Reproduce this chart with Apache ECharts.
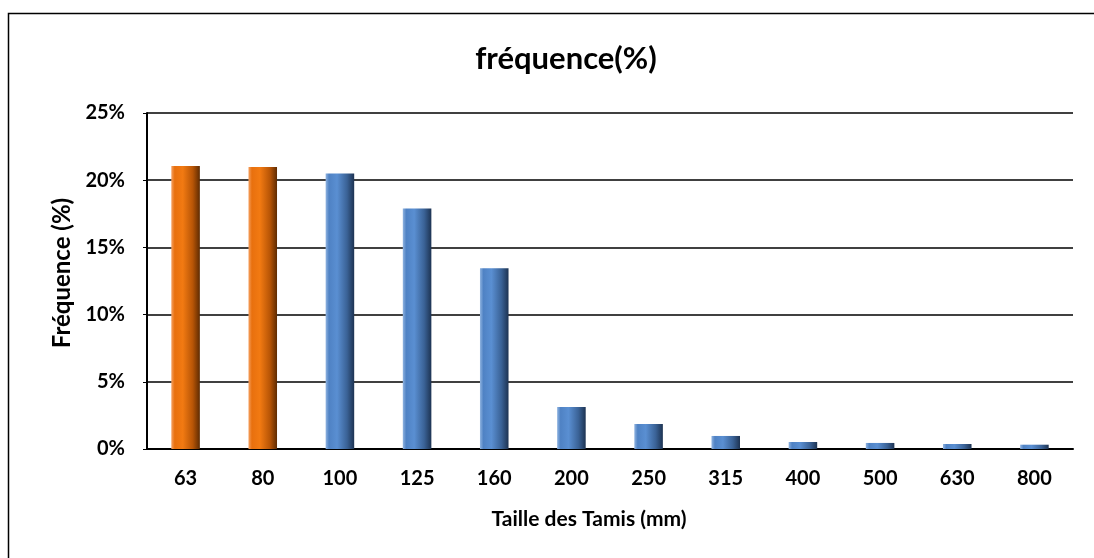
<!DOCTYPE html>
<html>
<head>
<meta charset="utf-8">
<script src="https://cdn.jsdelivr.net/npm/echarts@6/dist/echarts.min.js"></script>
<style>html,body{margin:0;padding:0;background:#fff}#c{width:1094px;height:558px}</style>
</head>
<body>
<div id="c"></div>
<script>
const categories = ["63","80","100","125","160","200","250","315","400","500","630","800"];
const values = [0.2105, 0.2098, 0.2050, 0.1790, 0.1345, 0.0312, 0.0186, 0.0097, 0.0052, 0.0045, 0.0037, 0.0032];
const highlighted = ["63","80"];
const yTicks = [0, 0.05, 0.10, 0.15, 0.20, 0.25];

const FONT = 'Lato, "Open Sans", sans-serif';
const orange = new echarts.graphic.LinearGradient(0,0,1,0,[
  {offset:0,color:'#f5a060'},{offset:0.12,color:'#e8700e'},{offset:0.4,color:'#f27a12'},{offset:0.75,color:'#b85506'},{offset:1,color:'#5e2b02'}]);
const blue = new echarts.graphic.LinearGradient(0,0,1,0,[
  {offset:0,color:'#8fb3e0'},{offset:0.12,color:'#4f82c4'},{offset:0.4,color:'#5a8fd2'},{offset:0.75,color:'#3a6296'},{offset:1,color:'#1d3352'}]);

const chart = echarts.init(document.getElementById('c'), null, {renderer:'canvas'});
chart.setOption({
  backgroundColor:'#fff',
  animation:false,
  title:{text:'fréquence(%)', left:561, top:38, textAlign:'center',
    textStyle:{fontFamily:FONT, fontWeight:'bold', fontSize:31, color:'#000'}},
  graphic:[{type:'rect', shape:{x:8.5,y:13.5,width:1200,height:700}, style:{fill:'none',stroke:'#000',lineWidth:1.5}, z:-1}],
  grid:{left:147, right:21, top:113, bottom:109},
  xAxis:{type:'category', data:categories,
    name:'Taille des Tamis (mm)', nameLocation:'middle', nameGap:60,
    nameTextStyle:{fontFamily:FONT, fontWeight:'bold', fontSize:21, color:'#000', padding:[0,42,0,0]},
    axisLine:{lineStyle:{color:'#000', width:2}},
    axisTick:{show:false},
    axisLabel:{fontFamily:FONT, fontWeight:'bold', fontSize:20, color:'#000', margin:20}},
  yAxis:{type:'value', min:0, max:0.25, interval:0.05,
    name:'Fréquence (%)', nameLocation:'middle', nameGap:72,
    nameTextStyle:{fontFamily:FONT, fontWeight:'bold', fontSize:24, color:'#000', padding:[0,0,0,16]},
    axisLine:{show:true, lineStyle:{color:'#000', width:2}},
    axisTick:{show:true, length:4, lineStyle:{color:'#000'}},
    splitLine:{lineStyle:{color:'#000', width:1.5}},
    axisLabel:{fontFamily:FONT, fontWeight:'bold', fontSize:20, color:'#000', margin:22,
      formatter:v => Math.round(v*100)+'%'}},
  series:[{type:'bar', barWidth:'37%',
    data: values.map((v,i)=>({value:v, itemStyle:{color: highlighted.includes(categories[i]) ? orange : blue}}))}]
});
</script>
</body>
</html>
